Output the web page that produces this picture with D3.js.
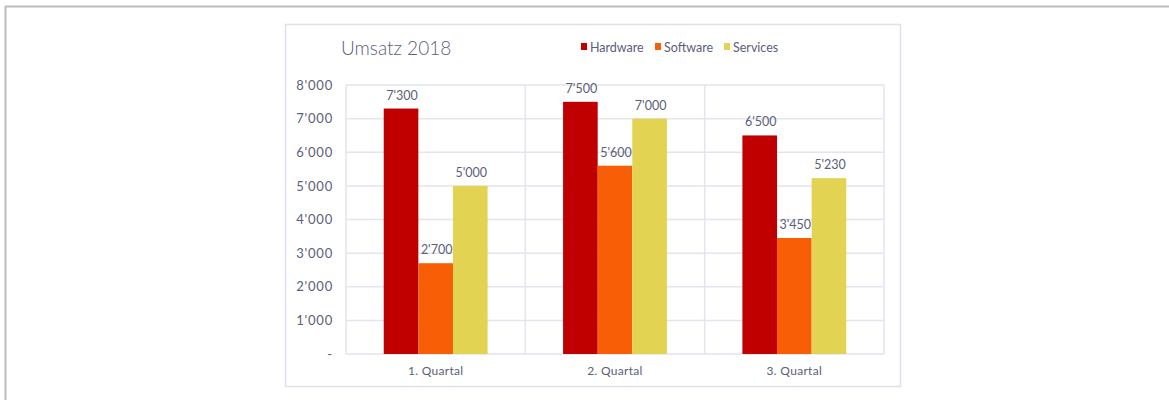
<!DOCTYPE html>
<html>
<head>
<meta charset="utf-8">
<script src="https://cdn.jsdelivr.net/npm/d3@7"></script>
<style>
  html, body { margin: 0; padding: 0; background: #fff; }
  svg { display: block; }
  text { font-family: "Lato", "Open Sans", sans-serif; fill: #5b5e78; }
</style>
</head>
<body>
<svg id="chart" width="1169" height="400"></svg>
<script>
// Umsatz pro Quartal nach Bereich
const quarters = ["1. Quartal", "2. Quartal", "3. Quartal"];
const seriesNames = ["Hardware", "Software", "Services"];
const hardware = [7300, 7500, 6500];
const software = [2700, 5600, 3450];
const services = [5000, 7000, 5230];
const yTicks = [0, 1000, 2000, 3000, 4000, 5000, 6000, 7000, 8000];
const seriesColors = ["#c00000", "#f75e05", "#e3d352"];

const values = [hardware, software, services];

const svg = d3.select("#chart");
const swiss = d3.formatLocale({ decimal: ".", thousands: "'", grouping: [3], currency: ["", ""] });
const fmt = swiss.format(",d");

// outer frame
svg.append("path")
  .attr("d", "M5.5,400 V6.5 H1169")
  .attr("fill", "none").attr("stroke", "#bdbdbd").attr("stroke-width", 2);

// chart area box
svg.append("rect")
  .attr("x", 285.5).attr("y", 24.5).attr("width", 615).attr("height", 362)
  .attr("fill", "#fff").attr("stroke", "#dfe0ea").attr("stroke-width", 1.5);

const plot = { left: 346, right: 884, top: 85, bottom: 354 };

const x = d3.scaleBand().domain(quarters).range([plot.left, plot.right]);
const inner = d3.scaleBand().domain(seriesNames)
  .range([0, x.bandwidth()]).paddingInner(0).paddingOuter(1.09);
const y = d3.scaleLinear().domain([0, 8000]).range([plot.bottom, plot.top]);

// horizontal gridlines
svg.append("g").selectAll("line").data(yTicks).join("line")
  .attr("x1", plot.left).attr("x2", plot.right)
  .attr("y1", d => y(d)).attr("y2", d => y(d))
  .attr("stroke", "#e3e4ee").attr("stroke-width", 1.5);

// vertical category separators
const seps = [plot.left, ...quarters.map(q => x(q) + x.bandwidth())];
svg.append("g").selectAll("line").data(seps).join("line")
  .attr("x1", d => d).attr("x2", d => d)
  .attr("y1", plot.top).attr("y2", plot.bottom)
  .attr("stroke", "#e3e4ee").attr("stroke-width", 1.5);

// y axis labels
const yAxis = d3.axisLeft(y).tickValues(yTicks).tickSize(0).tickPadding(13)
  .tickFormat(d => d === 0 ? "-" : fmt(d));
const gy = svg.append("g").attr("transform", `translate(${plot.left},0)`).call(yAxis);
gy.select(".domain").remove();
gy.selectAll("text").style("font-size", "13px").style("letter-spacing", "0.8px")
  .style("fill", "#5b5e78");

// x axis labels
const xAxis = d3.axisBottom(x).tickSize(0).tickPadding(12);
const gx = svg.append("g").attr("transform", `translate(0,${plot.bottom})`).call(xAxis);
gx.select(".domain").remove();
gx.selectAll("text").style("font-size", "12px").style("letter-spacing", "0.3px")
  .style("fill", "#5b5e78");

// bars
const groups = svg.append("g").selectAll("g").data(quarters).join("g")
  .attr("transform", q => `translate(${x(q)},0)`);

groups.selectAll("rect")
  .data((q, qi) => seriesNames.map((s, si) => ({ s, si, v: values[si][qi] })))
  .join("rect")
  .attr("x", d => inner(d.s))
  .attr("width", inner.bandwidth())
  .attr("y", d => y(d.v))
  .attr("height", d => y(0) - y(d.v))
  .attr("fill", d => seriesColors[d.si]);

groups.selectAll("text.val")
  .data((q, qi) => seriesNames.map((s, si) => ({ s, si, v: values[si][qi] })))
  .join("text")
  .attr("class", "val")
  .attr("x", d => inner(d.s) + inner.bandwidth() / 2 + 1)
  .attr("y", d => y(d.v) - 9)
  .attr("text-anchor", "middle")
  .style("font-size", "12.5px")
  .text(d => fmt(d.v));

// title
svg.append("text")
  .attr("x", 341).attr("y", 55)
  .style("font-size", "19px")
  .style("font-weight", "300")
  .style("fill", "#5b5e78")
  .text("Umsatz 2018");

// legend
const legendX = [581, 655, 724];
const lg = svg.append("g").selectAll("g").data(seriesNames).join("g")
  .attr("transform", (d, i) => `translate(${legendX[i]},47)`);
lg.append("rect").attr("x", 0).attr("y", -4).attr("width", 6).attr("height", 7)
  .attr("fill", (d, i) => seriesColors[i]);
lg.append("text").attr("x", 9).attr("y", 4.5)
  .style("font-size", "12.5px")
  .text(d => d);
</script>
</body>
</html>
